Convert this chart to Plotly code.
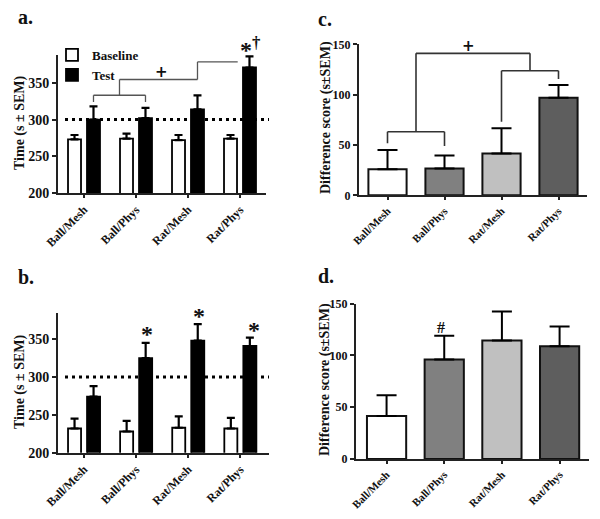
import plotly.graph_objects as go

categories = ["Ball/Mesh", "Ball/Phys", "Rat/Mesh", "Rat/Phys"]

a_baseline = [273, 274, 272, 274]
a_baseline_err = [6, 7, 7, 5]
a_test = [300, 302, 314, 371]
a_test_err = [18, 14, 19, 15]

b_baseline = [232, 228, 233, 232]
b_baseline_err = [13, 14, 15, 14]
b_test = [274, 325, 348, 341]
b_test_err = [14, 20, 22, 11]

c_diff = [26, 26.5, 41.5, 97]
c_diff_err = [19, 13, 25, 12.5]

d_diff = [41.5, 96, 114.5, 109]
d_diff_err = [20, 23, 28, 19]

FONT = "Liberation Serif"
W, H = 600, 519
diff_colors = ["#ffffff", "#808080", "#c0c0c0", "#5e5e5e"]


def px(x):
    return x / W


def py(y):
    return 1 - y / H


def err(vals, w, th=2.2):
    return dict(type="data", array=vals, symmetric=False, arrayminus=[0] * len(vals),
                color="black", thickness=th, width=w)


fig = go.Figure()

# Panel a
fig.add_trace(go.Bar(x=categories, y=a_baseline, name="Baseline", xaxis="x", yaxis="y",
                     marker=dict(color="white", line=dict(color="black", width=1.8)),
                     error_y=err(a_baseline_err, 4), showlegend=True))
fig.add_trace(go.Bar(x=categories, y=a_test, name="Test", xaxis="x", yaxis="y",
                     marker=dict(color="black", line=dict(color="black", width=1.8)),
                     error_y=err(a_test_err, 4), showlegend=True))
# Panel b
fig.add_trace(go.Bar(x=categories, y=b_baseline, name="Baseline", xaxis="x3", yaxis="y3",
                     marker=dict(color="white", line=dict(color="black", width=1.8)),
                     error_y=err(b_baseline_err, 4), showlegend=False))
fig.add_trace(go.Bar(x=categories, y=b_test, name="Test", xaxis="x3", yaxis="y3",
                     marker=dict(color="black", line=dict(color="black", width=1.8)),
                     error_y=err(b_test_err, 4), showlegend=False))
# Panel c
fig.add_trace(go.Bar(x=categories, y=c_diff, xaxis="x2", yaxis="y2", width=0.67,
                     marker=dict(color=diff_colors, line=dict(color="#111", width=2)),
                     error_y=err(c_diff_err, 10, 2), showlegend=False))
# Panel d
fig.add_trace(go.Bar(x=categories, y=d_diff, xaxis="x4", yaxis="y4", width=0.68,
                     marker=dict(color=diff_colors, line=dict(color="#111", width=2)),
                     error_y=err(d_diff_err, 10, 2), showlegend=False))

axis_common = dict(showline=True, linecolor="#222", linewidth=2, ticks="outside",
                   ticklen=4, tickwidth=2, tickcolor="#222", showgrid=False, zeroline=False,
                   automargin=False,
                   tickfont=dict(family=FONT, size=14, color="#111", weight="bold"))
xcommon = dict(showline=True, linecolor="#222", linewidth=2, ticks="outside",
               ticklen=3, tickwidth=1.5, tickcolor="#222", showgrid=False, zeroline=False,
               tickangle=-45, automargin=False)

fig.update_layout(
    width=W, height=H, margin=dict(l=0, r=0, t=0, b=0),
    paper_bgcolor="white", plot_bgcolor="white",
    barmode="group", bargap=0.27, bargroupgap=0.315,
    font=dict(family=FONT, color="#111", weight="bold"),
    showlegend=True,
    legend=dict(x=px(52), y=py(40), xanchor="left", yanchor="top",
                font=dict(family=FONT, size=13, color="#111", weight="bold"),
                bgcolor="rgba(0,0,0,0)", tracegroupgap=0, itemwidth=30),
    xaxis=dict(domain=[px(58), px(266)], anchor="y", range=[-0.5, 3.5],
               tickfont=dict(family=FONT, size=12, color="#111", weight="bold"), **xcommon),
    yaxis=dict(domain=[py(193), py(55)], anchor="x", range=[200, 388],
               tickvals=[200, 250, 300, 350], **axis_common),
    xaxis2=dict(domain=[px(359), px(587)], anchor="y2", range=[-0.5, 3.5],
                tickfont=dict(family=FONT, size=11, color="#111", weight="bold"), **xcommon),
    yaxis2=dict(domain=[py(195.3), py(44.3)], anchor="x2", range=[0, 150],
                tickvals=[0, 50, 100, 150],
                **{**axis_common, "tickfont": dict(family=FONT, size=12, color="#111", weight="bold")}),
    xaxis3=dict(domain=[px(58), px(269)], anchor="y3", range=[-0.5, 3.55],
                tickfont=dict(family=FONT, size=12, color="#111", weight="bold"), **xcommon),
    yaxis3=dict(domain=[py(452.7), py(312.7)], anchor="x3", range=[200, 385],
                tickvals=[200, 250, 300, 350], **axis_common),
    xaxis4=dict(domain=[px(356), px(589)], anchor="y4", range=[-0.53, 3.51],
                tickfont=dict(family=FONT, size=11, color="#111", weight="bold"), **xcommon),
    yaxis4=dict(domain=[py(459), py(303.7)], anchor="x4", range=[0, 150],
                tickvals=[0, 50, 100, 150],
                **{**axis_common, "tickfont": dict(family=FONT, size=12, color="#111", weight="bold")}),
)

shapes = []
# dotted reference lines at 300
for yref in ("y", "y3"):
    shapes.append(dict(type="line", xref="paper", yref=yref, x0=px(65), x1=px(269), y0=300, y1=300,
                       line=dict(color="black", width=3, dash="3px,4px")))

# brackets panel a
off = 0.1825
ga = dict(color="#555", width=1.3)
a_lines = [
    (0 + off, 324, 0 + off, 333.2),
    (1 + off, 324, 1 + off, 333.2),
    (0 + off, 333.2, 1 + off, 333.2),
    (0.5 + off, 333.2, 0.5 + off, 354.6),
    (0.5 + off, 354.6, 2 + off, 354.6),
    (2 + off, 354.6, 2 + off, 378.6),
    (2 + off, 378.6, 2.956, 378.6),
]
for x0, y0, x1, y1 in a_lines:
    shapes.append(dict(type="line", xref="x", yref="y", x0=x0, y0=y0, x1=x1, y1=y1, line=ga))

# brackets panel c
gc = dict(color="#333", width=1.6)
c_lines = [
    (0, 51.6, 0, 63.2),
    (1, 49, 1, 63.2),
    (0, 63.2, 1, 63.2),
    (0.5, 63.2, 0.5, 141),
    (0.5, 141, 2.5, 141),
    (2.5, 141, 2.5, 123.7),
    (2, 73.1, 2, 123.7),
    (3, 115.5, 3, 123.7),
    (2, 123.7, 3, 123.7),
]
for x0, y0, x1, y1 in c_lines:
    shapes.append(dict(type="line", xref="x2", yref="y2", x0=x0, y0=y0, x1=x1, y1=y1, line=gc))

fig.update_layout(shapes=shapes)

ann = []
for label, x, y in (("a.", 16, 17), ("c.", 316, 19), ("b.", 16, 277), ("d.", 316, 276)):
    ann.append(dict(text=label, x=px(x), y=py(y), xref="paper", yref="paper", xanchor="left",
                    yanchor="middle", showarrow=False,
                    font=dict(family=FONT, size=20, color="#111", weight="bold")))

# y axis titles
for text, x, y in (("Time (s \u00b1 SEM)", 20, 123), ("Time (s \u00b1 SEM)", 20, 382),
                   ("Difference score (s\u00b1SEM)", 326, 118), ("Difference score (s\u00b1SEM)", 325, 380)):
    ann.append(dict(text=text, x=px(x), y=py(y), xref="paper", yref="paper", xanchor="center",
                    yanchor="middle", textangle=-90, showarrow=False,
                    font=dict(family=FONT, size=14, color="#111", weight="bold")))


def mark(text, x, y, size=22, family=FONT):
    ann.append(dict(text=text, x=px(x), y=py(y), xref="paper", yref="paper", xanchor="center",
                    yanchor="middle", showarrow=False,
                    font=dict(family=family, size=size, color="#111", weight="bold")))


mark("+", 161, 72, 15, "DejaVu Sans")
mark("+", 468.8, 45.5, 15, "DejaVu Sans")
mark("*<sup>\u2020</sup>", 250, 47.5, 24)
mark("*", 146.5, 334, 24)
mark("*", 198.5, 316, 24)
mark("*", 253.5, 330, 24)
mark("#", 441, 327, 16)

fig.update_layout(annotations=ann)

fig.write_html("out.html", config={"displayModeBar": False},
               post_script="document.body.style.margin='0px';")
